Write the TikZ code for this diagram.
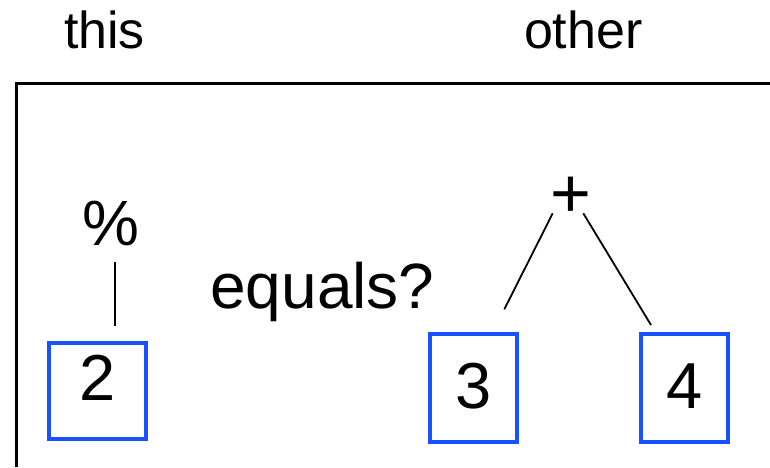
\documentclass[tikz,border=0pt]{standalone}
\usepackage{fontspec}
\setmainfont{Liberation Sans}
\usetikzlibrary{calc}
\definecolor{boxblue}{RGB}{24,82,255}
\tikzset{
  big/.style={font=\fontsize{64}{64}\selectfont, inner sep=0pt, outer sep=0pt},
  small/.style={font=\fontsize{52}{52}\selectfont, inner sep=0pt, outer sep=0pt},
  numbox/.style={draw=boxblue, line width=4pt, inner sep=0pt, outer sep=0pt,
    font=\fontsize{65}{65}\selectfont, text depth=0pt},
  edge/.style={line width=1.8pt, black},
}
\begin{document}
\begin{tikzpicture}[x=1pt,y=-1pt]
\useasboundingbox (0,0) rectangle (770,467);
% frame
\draw[line width=3pt] (770,83) -- (16,83) -- (16,467);
% headers
\node[small, anchor=base] (this) at (104.5,48.3) {this};
\node[small, anchor=base] (other) at (583.3,48.3) {other};
% left tree
\node[big, anchor=base] (pct) at (110.8,245) {\%};
\node[numbox, minimum width=97pt, minimum height=96pt, text height=19.4pt] (b2) at (97.8,391) {2};
\draw[edge] ($(pct.base)+(4.2,17)$) -- ($(b2.north)+(17.2,-17)$);
% middle
\node[big, anchor=base] (eq) at (322.5,308.3) {equals?};
% right tree
\node[big, font=\fontsize{70}{70}\selectfont, anchor=base] (plus) at (571,217) {+};
\node[numbox, minimum width=86.7pt, minimum height=108pt, text height=40pt] (b3) at (473.7,388) {3};
\node[numbox, minimum width=86.7pt, minimum height=108pt, text height=40pt] (b4) at (684.7,388) {4};
\draw[edge] ($(plus.base)+(-18.3,-3.7)$) -- ($(b3.north)+(30.6,-24.7)$);
\draw[edge] ($(plus.base)+(12.3,-3.7)$) -- ($(b4.north)+(-33.7,-9)$);
\end{tikzpicture}
\end{document}
